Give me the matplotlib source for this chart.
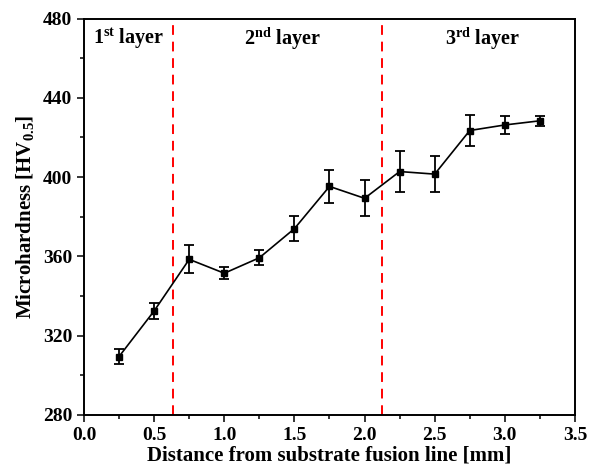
import numpy as np
import matplotlib
matplotlib.use('Agg')
import matplotlib.pyplot as plt
from matplotlib.ticker import MultipleLocator

plt.rcParams['font.family'] = 'Liberation Serif'
plt.rcParams['font.weight'] = 'bold'
plt.rcParams['mathtext.fontset'] = 'custom'
plt.rcParams['mathtext.rm'] = 'Liberation Serif:bold'
plt.rcParams['mathtext.bf'] = 'Liberation Serif:bold'
plt.rcParams['mathtext.it'] = 'Liberation Serif:bold'

# distance from fusion line [mm]
distance = [0.25, 0.5, 0.75, 1.0, 1.25, 1.5, 1.75, 2.0, 2.25, 2.5, 2.75, 3.0, 3.25]
hardness = [309.5, 332.5, 358.5, 351.5, 359.3, 374.0, 395.3, 389.3, 402.8, 401.5, 423.5, 426.3, 428.4]
error = [3.6, 3.9, 7.1, 2.9, 3.8, 6.3, 8.4, 9.0, 10.5, 9.0, 7.7, 4.7, 2.6]

boundaries = [0.635, 2.125]
layer_names = [r'1$^{\rm st}$ layer', r'2$^{\rm nd}$ layer', r'3$^{\rm rd}$ layer']
layer_x = [0.32, 1.41, 2.84]

fig = plt.figure(figsize=(5.98, 4.72), dpi=100)
ax = fig.add_axes([0.1405, 0.1208, 0.821, 0.8400])

ax.errorbar(distance, hardness, yerr=error, color='black', marker='s', markersize=4.8,
            linewidth=1.2, elinewidth=1.3, capsize=3.5, capthick=1.3)

for b in boundaries:
    ax.axvline(b, color='red', linestyle=(0, (5, 3.5)), linewidth=1.4)

for name, x in zip(layer_names, layer_x):
    ax.text(x, 470, name, ha='center', va='center', fontsize=14.5, fontweight='bold')

ax.set_xlim(0, 3.5)
ax.set_ylim(280, 480)
ax.xaxis.set_major_locator(MultipleLocator(0.5))
ax.xaxis.set_minor_locator(MultipleLocator(0.25))
ax.yaxis.set_major_locator(MultipleLocator(40))
ax.yaxis.set_minor_locator(MultipleLocator(20))
ax.tick_params(which='both', direction='out', top=False, right=False, labelsize=14, width=1.1)
ax.tick_params(which='major', length=5)
ax.tick_params(which='minor', length=3)
for s in ax.spines.values():
    s.set_linewidth(1.4)

ax.set_xlabel('Distance from substrate fusion line [mm]', fontsize=15, fontweight='bold', labelpad=1)
ax.set_ylabel(r'Microhardness [HV$_{0.5}$]', fontsize=15, fontweight='bold', labelpad=5)

fig.savefig('out.png', dpi=100)
